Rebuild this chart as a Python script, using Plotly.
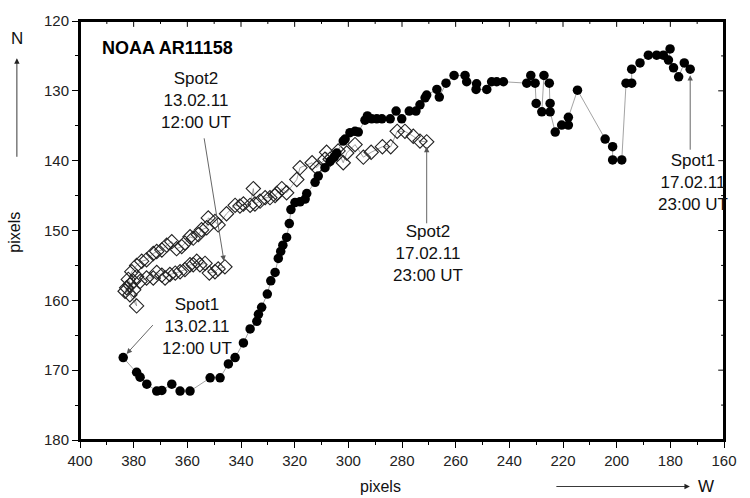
import plotly.graph_objects as go

# Spot1 trajectory (filled circles), 13.02.11 12:00 UT -> 17.02.11 23:00 UT
spot1_x = [383.9, 378.9, 377.6, 375.1, 371.4, 369.5, 365.8, 362.7, 359.0, 351.5,
           347.8, 344.7, 342.2, 339.1, 336.6, 334.1, 333.5, 332.3, 330.2, 328.9,
           327.3, 326.1, 325.2, 324.4, 323.0, 322.0, 321.4, 319.9, 318.0, 316.1,
           315.5, 312.4, 311.2, 308.7, 306.8, 305.3, 304.3, 301.9, 301.2, 299.4,
           297.5, 296.3, 293.8, 292.9, 291.3, 289.4, 287.5, 284.4, 282.2, 280.1,
           277.3, 274.8, 273.3, 271.4, 270.8, 267.0, 266.1, 263.6, 260.6, 256.5,
           255.9, 252.2, 252.4, 248.4, 246.6, 244.7, 242.2, 233.5, 232.0, 230.4,
           230.0, 227.9, 227.1, 225.1, 224.8, 224.8, 222.9, 220.5, 218.0, 218.0,
           214.6, 204.3, 201.5, 201.5, 198.1, 196.5, 194.4, 194.4, 191.3, 188.2,
           185.1, 182.6, 180.1, 180.7, 178.8, 176.9, 174.8, 172.6]
spot1_y = [168.2, 170.3, 171.0, 172.0, 173.0, 172.9, 172.0, 173.0, 173.0, 171.1,
           171.1, 169.1, 168.2, 166.1, 164.1, 163.0, 162.0, 161.0, 159.1, 157.2,
           156.0, 154.0, 153.0, 152.1, 151.0, 149.0, 147.0, 146.0, 145.9, 145.5,
           144.7, 143.1, 142.2, 141.0, 140.1, 139.5, 138.9, 137.2, 136.9, 136.0,
           135.8, 135.9, 134.2, 133.6, 134.0, 134.0, 134.0, 134.0, 132.9, 134.0,
           132.9, 132.9, 132.0, 131.0, 130.6, 129.8, 130.9, 128.9, 127.8, 127.8,
           128.7, 129.0, 129.8, 129.8, 128.7, 128.7, 128.7, 128.9, 127.8, 128.9,
           131.8, 133.0, 127.8, 128.9, 131.8, 133.0, 135.9, 134.9, 134.9, 133.8,
           129.9, 136.9, 138.0, 139.9, 139.9, 128.9, 128.9, 126.9, 126.0, 124.9,
           124.9, 124.9, 124.0, 125.6, 126.7, 128.0, 126.0, 126.9]

# Spot2 trajectory (open diamonds), 13.02.11 12:00 UT -> 17.02.11 23:00 UT
spot2_x = [346.0, 348.5, 349.7, 351.8, 353.4, 355.3, 356.5, 357.8, 359.0, 360.9,
           362.7, 364.5, 366.5, 368.3, 369.5, 371.4, 372.7, 375.2, 377.6, 378.9,
           380.1, 381.4, 382.6, 383.2, 381.4, 378.9, 380.0, 382.0, 380.7, 378.9,
           377.0, 375.2, 372.7, 371.4, 369.5, 367.7, 365.8, 364.0, 362.1, 360.9,
           359.0, 357.8, 355.9, 354.7, 352.8, 352.2, 349.7, 348.5, 345.4, 342.2,
           340.4, 339.1, 336.6, 335.4, 334.8, 332.9, 331.0, 329.2, 327.3, 326.7,
           324.8, 323.0, 319.2, 318.0, 313.5, 311.8, 308.7, 308.1, 306.8, 303.8,
           301.9, 300.6, 297.5, 294.4, 291.5, 287.3, 284.2, 281.8, 278.9, 275.8,
           273.3, 270.8]
spot2_y = [155.2, 155.5, 155.9, 156.1, 154.7, 154.9, 154.4, 154.9, 154.9, 155.6,
           155.9, 156.1, 156.3, 156.8, 156.4, 156.0, 156.8, 156.8, 157.3, 156.6,
           157.3, 157.8, 158.2, 158.7, 159.2, 160.8, 158.5, 157.0, 155.9, 155.0,
           154.4, 154.2, 153.3, 153.0, 152.8, 152.1, 151.6, 152.6, 152.3, 151.8,
           150.9, 151.1, 150.6, 149.9, 149.6, 148.2, 148.7, 149.2, 147.6, 146.4,
           146.5, 146.2, 146.4, 144.0, 146.2, 145.8, 145.3, 145.3, 145.0, 144.7,
           144.0, 144.6, 142.7, 141.0, 140.3, 141.0, 139.8, 138.8, 139.8, 138.6,
           140.3, 138.9, 137.7, 139.5, 138.8, 138.0, 138.0, 135.8, 135.8, 136.5,
           137.2, 137.3]

x_range = [400, 160]
y_range = [180, 120]

FONT = "Liberation Sans, Arial, sans-serif"
LINE_GREY = "#8c8c8c"

fig = go.Figure()
fig.add_trace(go.Scatter(
    x=spot2_x, y=spot2_y, mode="lines+markers", name="Spot2",
    line=dict(color=LINE_GREY, width=0.8),
    marker=dict(symbol="diamond-open", size=11, color="#222222",
                line=dict(width=1.1, color="#222222")),
))
fig.add_trace(go.Scatter(
    x=spot1_x, y=spot1_y, mode="lines+markers", name="Spot1",
    line=dict(color=LINE_GREY, width=0.8),
    marker=dict(symbol="circle", size=9.5, color="#000000"),
))

ann = []
txt = dict(family=FONT, size=17, color="#111111")
ann.append(dict(x=392.5, y=123.9, xref="x", yref="y", text="<b>NOAA AR11158</b>",
                showarrow=False, xanchor="left", yanchor="middle",
                font=dict(family=FONT, size=18, color="#000000")))
for x, y, t in [(356.8, 131.4, "Spot2<br>13.02.11<br>12:00 UT"),
                (356.4, 163.7, "Spot1<br>13.02.11<br>12:00 UT"),
                (270.3, 153.3, "Spot2<br>17.02.11<br>23:00 UT"),
                (171.5, 143.1, "Spot1<br>17.02.11<br>23:00 UT")]:
    ann.append(dict(x=x, y=y, xref="x", yref="y", text=t, showarrow=False,
                    xanchor="center", yanchor="middle", font=txt))

arrow = dict(showarrow=True, arrowhead=2, arrowsize=1.2, arrowwidth=0.9,
             arrowcolor="#555555", text="", xref="x", yref="y")
ann.append(dict(arrow, x=spot2_x[0], y=spot2_y[0], ax=-21, ay=-130, standoff=6))
ann.append(dict(arrow, x=spot1_x[0], y=spot1_y[0], ax=31, ay=-34, standoff=5))
ann.append(dict(arrow, x=spot2_x[-1], y=spot2_y[-1], ax=0, ay=83, standoff=5))
ann.append(dict(arrow, x=spot1_x[-1], y=spot1_y[-1], ax=0, ay=82, standoff=6))

outer = dict(family=FONT, size=17, color="#111111")
ann.append(dict(x=-0.101, y=0.497, xref="paper", yref="paper", text="pixels",
                textangle=-90, showarrow=False, xanchor="center", yanchor="middle",
                font=dict(family=FONT, size=16, color="#111111")))
ann.append(dict(x=-0.098, y=0.958, xref="paper", yref="paper", text="N",
                showarrow=False, xanchor="center", yanchor="middle", font=outer))
ann.append(dict(x=-0.098, y=0.911, xref="paper", yref="paper", text="",
                showarrow=True, ax=0, ay=100, arrowhead=2, arrowsize=1.2,
                arrowwidth=0.9, arrowcolor="#222222"))
ann.append(dict(x=0.466, y=-0.111, xref="paper", yref="paper", text="pixels",
                showarrow=False, xanchor="center", yanchor="middle",
                font=dict(family=FONT, size=16, color="#111111")))
ann.append(dict(x=0.947, y=-0.111, xref="paper", yref="paper", text="",
                showarrow=True, ax=-135, ay=0, arrowhead=2, arrowsize=1.2,
                arrowwidth=0.9, arrowcolor="#222222"))
ann.append(dict(x=0.972, y=-0.111, xref="paper", yref="paper", text="W",
                showarrow=False, xanchor="center", yanchor="middle", font=outer))

# frame and inside tick marks on the top/right edges
shapes = [dict(type="rect", xref="paper", yref="paper", x0=0, x1=1, y0=0, y1=1,
               line=dict(color="black", width=2), layer="above")]
for k in range(13):
    xv = 160 + 20 * k
    shapes.append(dict(type="line", xref="x", yref="paper", x0=xv, x1=xv,
                       y0=1, y1=0.986, line=dict(color="black", width=1)))
for k in range(12):
    xv = 170 + 20 * k
    shapes.append(dict(type="line", xref="x", yref="paper", x0=xv, x1=xv,
                       y0=1, y1=0.993, line=dict(color="black", width=1)))
for k in range(7):
    yv = 120 + 10 * k
    shapes.append(dict(type="line", xref="paper", yref="y", x0=1, x1=0.991,
                       y0=yv, y1=yv, line=dict(color="black", width=1)))
for k in range(6):
    yv = 125 + 10 * k
    shapes.append(dict(type="line", xref="paper", yref="y", x0=1, x1=0.9955,
                       y0=yv, y1=yv, line=dict(color="black", width=1)))

tickfont = dict(family=FONT, size=15, color="#222222")
fig.update_layout(
    width=750, height=498,
    margin=dict(l=80, r=26, t=17, b=58),
    paper_bgcolor="white", plot_bgcolor="white",
    showlegend=False,
    annotations=ann,
    shapes=shapes,
    xaxis=dict(range=x_range, dtick=20, tick0=160, ticks="outside", ticklen=6,
               tickwidth=1, tickcolor="black", showline=True, linecolor="black",
               linewidth=2, mirror=True, showgrid=False, zeroline=False,
               tickfont=tickfont,
               minor=dict(dtick=10, ticks="outside", ticklen=3, tickcolor="black")),
    yaxis=dict(range=y_range, dtick=10, tick0=120, ticks="outside", ticklen=6,
               tickwidth=1, tickcolor="black", showline=True, linecolor="black",
               linewidth=2, mirror=True, showgrid=False, zeroline=False,
               tickfont=tickfont,
               minor=dict(dtick=5, ticks="outside", ticklen=3, tickcolor="black")),
)

fig.write_html("out.html")
